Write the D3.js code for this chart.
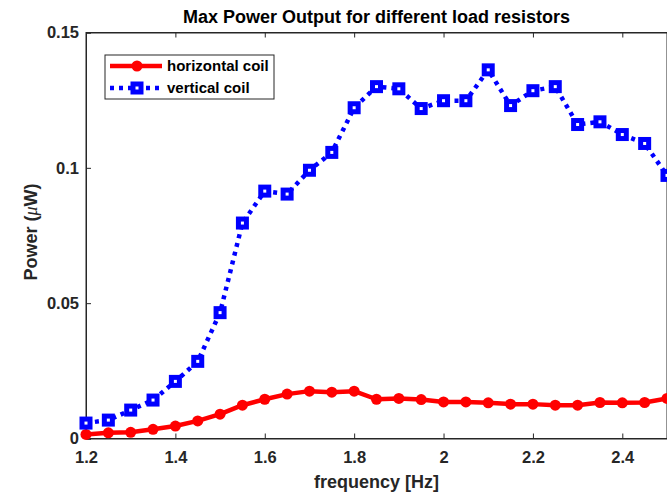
<!DOCTYPE html>
<head>
    <meta charset="utf-8">
    <script src="https://d3js.org/d3.v7.min.js"></script>
</head>
<body style="margin:0">
<svg class="chart" width="667" height="492"></svg>
<script>
// frequency samples [Hz]
var freq = [1.2, 1.25, 1.3, 1.35, 1.4, 1.45, 1.5, 1.55, 1.6, 1.65, 1.7, 1.75, 1.8, 1.85,
            1.9, 1.95, 2.0, 2.05, 2.1, 2.15, 2.2, 2.25, 2.3, 2.35, 2.4, 2.45, 2.5];
// max power (uW)
var horizontal = [0.0015, 0.0021, 0.0023, 0.0034, 0.0046, 0.0065, 0.0090, 0.0123, 0.0145,
                  0.0164, 0.0175, 0.0171, 0.0175, 0.0145, 0.0148, 0.0144, 0.0135, 0.0135,
                  0.0132, 0.0127, 0.0127, 0.0123, 0.0123, 0.0133, 0.0132, 0.0133, 0.0148];
var vertical = [0.0057, 0.0068, 0.0105, 0.0142, 0.0211, 0.0285, 0.0465, 0.0796, 0.0914,
                0.0903, 0.0991, 0.1057, 0.1222, 0.1300, 0.1292, 0.1219, 0.1248, 0.1248,
                0.1362, 0.1230, 0.1285, 0.1300, 0.1160, 0.1170, 0.1123, 0.1090, 0.0972];
var xTicks = [1.2, 1.4, 1.6, 1.8, 2, 2.2, 2.4];
var yTicks = [0, 0.05, 0.1, 0.15];

var plotLeft = 86, plotRight = 667, plotTop = 32.5, plotBottom = 438.5;
var axisColor = "#262626";

var x = d3.scaleLinear().domain([1.2, 2.5]).range([plotLeft, plotRight]);
var y = d3.scaleLinear().domain([0, 0.15]).range([plotBottom, plotTop]);

var chart = d3.select(".chart").style("font-family", "Arial, 'Liberation Sans', sans-serif");
chart.append("rect").attr("width", 667).attr("height", 492).attr("fill", "white");

// box
chart.append("rect")
    .attr("x", plotLeft).attr("y", plotTop)
    .attr("width", plotRight - plotLeft).attr("height", plotBottom - plotTop)
    .attr("fill", "white").attr("stroke", axisColor).attr("stroke-width", 1);

// bottom axis, ticks inward
var xAxis = d3.axisBottom(x).tickValues(xTicks).tickSize(-5).tickPadding(13)
    .tickFormat(d3.format("~g"));
var gx = chart.append("g").attr("transform", "translate(0," + plotBottom + ")").call(xAxis);
var xTop = d3.axisTop(x).tickValues(xTicks).tickSize(-5).tickFormat("");
var gxt = chart.append("g").attr("transform", "translate(0," + plotTop + ")").call(xTop);

var yAxis = d3.axisLeft(y).tickValues(yTicks).tickSize(-5).tickPadding(7)
    .tickFormat(d3.format("~g"));
var gy = chart.append("g").attr("transform", "translate(" + plotLeft + ",0)").call(yAxis);

[gx, gxt, gy].forEach(function(g) {
    g.select(".domain").attr("stroke", axisColor);
    g.selectAll(".tick line").attr("stroke", axisColor);
    g.selectAll(".tick text")
        .attr("fill", axisColor)
        .style("font-size", "16.5px")
        .style("font-weight", "bold");
});

// lines
var line = d3.line()
    .x(function(d, i) { return x(freq[i]); })
    .y(function(d) { return y(d); });

var plot = chart.append("g");

plot.append("path").datum(horizontal)
    .attr("d", line).attr("fill", "none")
    .attr("stroke", "#ff0000").attr("stroke-width", 4.5).attr("stroke-linejoin", "round");

plot.selectAll("circle.h").data(horizontal).enter().append("circle")
    .attr("class", "h")
    .attr("cx", function(d, i) { return x(freq[i]); })
    .attr("cy", function(d) { return y(d); })
    .attr("r", 5.5).attr("fill", "#ff0000");

plot.append("path").datum(vertical)
    .attr("d", line).attr("fill", "none")
    .attr("stroke", "#0000ff").attr("stroke-width", 4.5)
    .attr("stroke-dasharray", "4,5");

plot.selectAll("rect.v").data(vertical).enter().append("rect")
    .attr("class", "v")
    .attr("x", function(d, i) { return x(freq[i]) - 4; })
    .attr("y", function(d) { return y(d) - 4; })
    .attr("width", 8).attr("height", 8)
    .attr("fill", "white").attr("stroke", "#0000ff").attr("stroke-width", 5);

// title
chart.append("text")
    .attr("x", (plotLeft + plotRight) / 2).attr("y", 23)
    .attr("text-anchor", "middle")
    .style("font-size", "18px").style("font-weight", "bold")
    .attr("fill", "black")
    .text("Max Power Output for different load resistors");

// axis labels
chart.append("text")
    .attr("x", (plotLeft + plotRight) / 2).attr("y", 488)
    .attr("text-anchor", "middle")
    .style("font-size", "18px").style("font-weight", "bold")
    .attr("fill", axisColor)
    .text("frequency [Hz]");

var yl = chart.append("text")
    .attr("transform", "translate(37,232) rotate(-90)")
    .attr("text-anchor", "middle")
    .style("font-size", "18px").style("font-weight", "bold")
    .attr("fill", axisColor);
yl.append("tspan").text("Power (");
yl.append("tspan").style("font-style", "italic").style("font-weight", "normal")
    .style("font-family", "'Times New Roman', 'Liberation Serif', serif").text("\u03bc");
yl.append("tspan").text("W)");

// legend
var legend = chart.append("g");
legend.append("rect")
    .attr("x", 105).attr("y", 55).attr("width", 169).attr("height", 44)
    .attr("fill", "white").attr("stroke", axisColor).attr("stroke-width", 1);

var legendItems = [
    {name: "horizontal coil", color: "#ff0000", dash: null, marker: "circle"},
    {name: "vertical coil", color: "#0000ff", dash: "4,5", marker: "square"}
];
legendItems.forEach(function(item, i) {
    var ly = 66 + i * 22;
    legend.append("line")
        .attr("x1", 110).attr("x2", 162).attr("y1", ly).attr("y2", ly)
        .attr("stroke", item.color).attr("stroke-width", 4.5)
        .attr("stroke-dasharray", item.dash);
    if (item.marker == "circle") {
        legend.append("circle").attr("cx", 137).attr("cy", ly).attr("r", 5.5)
            .attr("fill", item.color);
    } else {
        legend.append("rect").attr("x", 133).attr("y", ly - 4)
            .attr("width", 8).attr("height", 8)
            .attr("fill", "white").attr("stroke", item.color).attr("stroke-width", 5);
    }
    legend.append("text")
        .attr("x", 167).attr("y", ly + 5)
        .style("font-size", "15px").style("font-weight", "bold")
        .attr("fill", "black")
        .text(item.name);
});
</script>
</body>
